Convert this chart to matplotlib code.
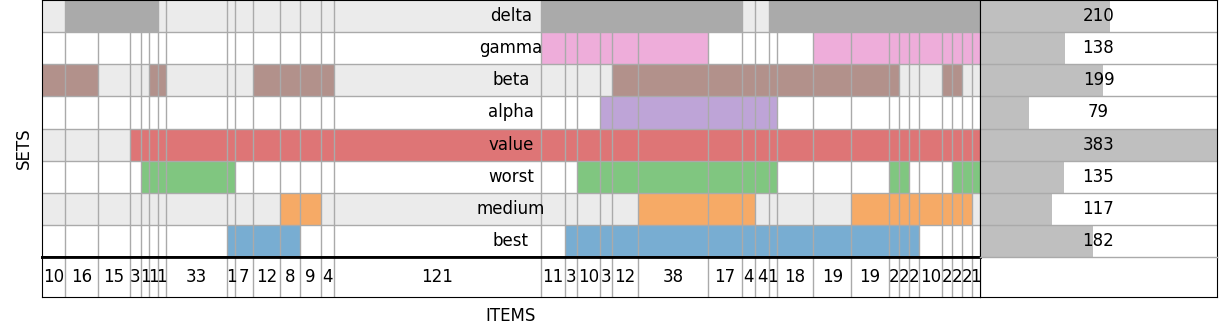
import matplotlib
matplotlib.use("Agg")
import matplotlib.pyplot as plt
from matplotlib.patches import Rectangle
import numpy as np

# ---- data ----
chunk_sizes = [10, 16, 15, 3, 1, 1, 1, 33, 1, 7, 12, 8, 9, 4, 121,
               11, 3, 10, 3, 12, 38, 17, 4, 4, 1, 18, 19, 19, 2, 2, 2, 10, 2, 2, 2, 1]
# sets from bottom to top
set_names = ['best', 'medium', 'worst', 'value', 'alpha', 'beta', 'gamma', 'delta']
set_sizes = [182, 117, 135, 383, 79, 199, 138, 210]
# membership of each chunk (1 = chunk belongs to the set)
membership = {
    'best':   "000000001111000011111111111111100000",
    'medium': "000000000001100000001110000111111110",
    'worst':  "000011111000000001111111100011000111",
    'value':  "000111111111111111111111111111111111",
    'alpha':  "000000000000000000111111100000000000",
    'beta':   "110001100011110000011111111110001100",
    'gamma':  "000000000000000111111000001111111111",
    'delta':  "011111000000000111111100111111111111",
}
set_colors = ['tab:blue', 'tab:orange', 'tab:green', 'tab:red',
              'tab:purple', 'tab:brown', 'tab:pink', 'tab:gray']

# ---- widths balancing (min/max ratio) ----
minmax_ratio = 0.04
sizes = np.array(chunk_sizes, dtype=float)
mx, mn = sizes.max(), sizes.min()
slope = mx * (1 - minmax_ratio) / (mx - mn)
intercept = mx * (mx * minmax_ratio - mn) / (mx - mn)
widths = slope * sizes + intercept
edges = np.concatenate([[0], np.cumsum(widths)])
total = edges[-1]

W, H = 1224, 332
fig = plt.figure(figsize=(W / 100, H / 100), dpi=100)

def px_axes(x0, y0, x1, y1):
    return fig.add_axes([x0 / W, 1 - y1 / H, (x1 - x0) / W, (y1 - y0) / H])

grid_c = '#aaaaaa'
bg_c = '#ebebeb'
lw = 1.0

axrb = px_axes(980, 257, 1217, 297)
ax = px_axes(42, 0, 980, 257)
axb = px_axes(42, 257, 980, 297)
axr = px_axes(980, 0, 1217, 257)

n = len(set_names)
# main
ax.set_xlim(0, total)
ax.set_ylim(0, n)
for i, name in enumerate(set_names):
    if i % 2 == 1:
        ax.add_patch(Rectangle((0, i), total, 1, facecolor=bg_c, edgecolor='none', zorder=0))
    for j, m in enumerate(membership[name]):
        if m == '1':
            ax.add_patch(Rectangle((edges[j], i), widths[j], 1, facecolor=set_colors[i],
                                   alpha=0.6, edgecolor='none', zorder=1))
    ax.text(total / 2, i + 0.5, name, ha='center', va='center', fontsize=12, zorder=4)
for e in edges[1:-1]:
    ax.axvline(e, color=grid_c, lw=lw, zorder=2)
for i in range(1, n):
    ax.axhline(i, color=grid_c, lw=lw, zorder=2)
ax.set_xticks([])
ax.set_yticks([])
ax.spines['bottom'].set_linewidth(2)
fig.text(24 / W, 1 - 148 / H, 'SETS', rotation=90, ha='center', va='center', fontsize=12)

# bottom chunk sizes
axb.set_xlim(0, total)
axb.set_ylim(0, 1)
for e in edges[1:-1]:
    axb.axvline(e, color=grid_c, lw=lw, zorder=1)
for j, s in enumerate(chunk_sizes):
    axb.text(edges[j] + widths[j] / 2, 0.5, str(s), ha='center', va='center', fontsize=12, zorder=3)
axb.set_xticks([])
axb.set_yticks([])
axb.spines['top'].set_linewidth(2)
axb.set_xlabel('ITEMS', fontsize=12, labelpad=7)

# right set sizes
xmax = max(set_sizes)
axr.set_xlim(0, xmax)
axr.set_ylim(0, n)
axr.barh(np.arange(n) + 0.5, set_sizes, height=1.0, color='#bfbfbf', zorder=1)
for i, v in enumerate(set_sizes):
    axr.text(xmax / 2, i + 0.5, str(v), ha='center', va='center', fontsize=12, zorder=3)
for i in range(1, n):
    axr.axhline(i, color=grid_c, lw=lw, zorder=2)
axr.set_xticks([])
axr.set_yticks([])
axr.spines['bottom'].set_color(grid_c)
axr.spines['bottom'].set_linewidth(lw)
axr.spines['bottom'].set_zorder(5)

axrb.set_xticks([])
axrb.set_yticks([])
axrb.spines['top'].set_visible(False)

fig.savefig('out.png', dpi=100)
